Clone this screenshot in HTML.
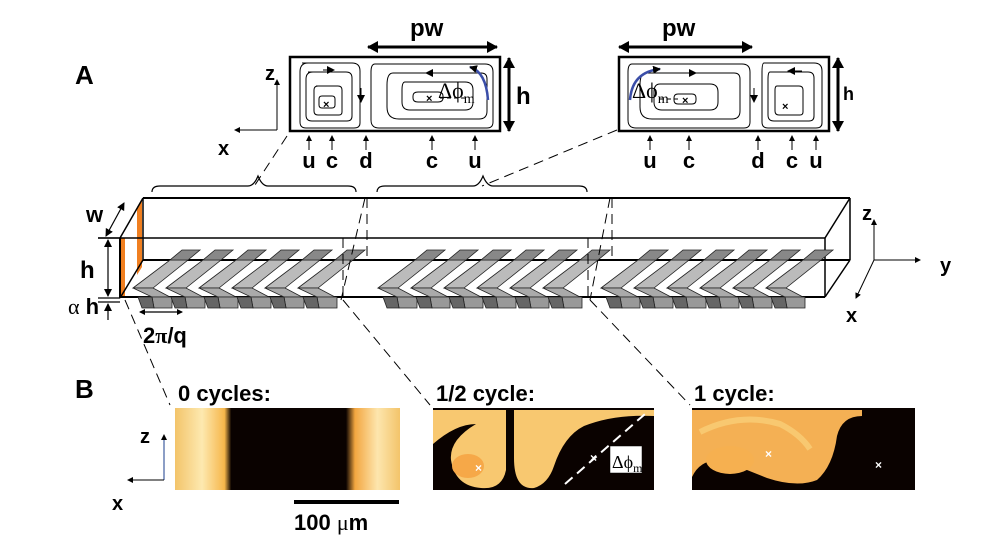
<!DOCTYPE html>
<html><head><meta charset="utf-8"><style>
html,body{margin:0;padding:0;background:#fff;}
svg{display:block;font-family:"Liberation Sans",sans-serif;}
.b{font-weight:bold;}
</style></head><body>
<svg width="983" height="546" viewBox="0 0 983 546" xmlns="http://www.w3.org/2000/svg">
<defs>
<marker id="ah" markerWidth="8" markerHeight="8" refX="7" refY="4" orient="auto-start-reverse" markerUnits="userSpaceOnUse"><path d="M0,0 L8,4 L0,8 z" fill="#000"/></marker>
<marker id="as" markerWidth="6" markerHeight="6" refX="5" refY="3" orient="auto-start-reverse" markerUnits="userSpaceOnUse"><path d="M0,0 L6,3 L0,6 z" fill="#000"/></marker>
<marker id="ab" markerWidth="11" markerHeight="12" refX="10" refY="6" orient="auto-start-reverse" markerUnits="userSpaceOnUse"><path d="M0,0 L11,6 L0,12 z" fill="#000"/></marker>
<linearGradient id="g1" x1="0" x2="1" y1="0" y2="0">
<stop offset="0" stop-color="#f3c46a"/><stop offset="0.12" stop-color="#fde9b0"/><stop offset="0.22" stop-color="#f6b64a"/><stop offset="0.25" stop-color="#0a0200"/><stop offset="0.76" stop-color="#0a0200"/><stop offset="0.8" stop-color="#f3a640"/><stop offset="0.9" stop-color="#fde6ae"/><stop offset="1" stop-color="#f3c46a"/></linearGradient>
</defs>

<text x="75" y="84" font-size="26" class="b">A</text>
<text x="75" y="398" font-size="26" class="b">B</text>

<g stroke="#000" fill="none">
<rect x="290" y="57" width="210" height="74" stroke-width="2.5"/>
<path d="M302,63 h50 q8,0 8,8 v52 q0,5 -6,5 h-48 q-6,0 -6,-6 v-50 q0,-9 8,-9z" stroke-width="1"/>
<path d="M308,72 h38 q6,0 6,6 v38 q0,5 -5,5 h-35 q-6,0 -6,-6 v-36 q0,-7 7,-7z" stroke-width="1"/>
<path d="M316,86 h22 q4,0 4,4 v22 q0,3 -3,3 h-21 q-4,0 -4,-4 v-21 q0,-4 4,-4z" stroke-width="1"/>
<path d="M322,96 h10 q3,0 3,3 v6 q0,3 -3,3 h-10 q-3,0 -3,-3 v-6 q0,-3 3,-3z" stroke-width="1"/>
<path d="M375,64 h110 q8,0 8,8 v50 q0,6 -6,6 h-108 q-8,0 -8,-8 v-48 q0,-8 4,-8z" stroke-width="1"/>
<path d="M393,73 h88 q6,0 6,6 v32 q0,8 -8,8 h-80 q-12,0 -12,-12 v-22 q0,-12 6,-12z" stroke-width="1"/>
<path d="M405,82 h60 q8,0 8,8 v12 q0,8 -8,8 h-55 q-8,0 -8,-8 v-12 q0,-8 3,-8z" stroke-width="1"/>
<path d="M418,92 h20 q5,0 5,4 v2 q0,4 -5,4 h-20 q-5,0 -5,-4 v-2 q0,-4 5,-4z" stroke-width="1"/>
<line x1="440" y1="98" x2="465" y2="98" stroke-dasharray="4,3" stroke-width="1"/>
<line x1="440" y1="73" x2="426" y2="73" marker-end="url(#ah)" stroke-width="1"/>
<line x1="323" y1="70" x2="334" y2="70" marker-end="url(#ah)" stroke-width="1"/>
<line x1="361" y1="88" x2="361" y2="102" marker-end="url(#ah)" stroke-width="1"/>
<path d="M488,100 Q486,72 470,67" stroke="#3b4ea8" stroke-width="2.5" marker-end="url(#ah)"/>
<line x1="368" y1="47" x2="497" y2="47" stroke-width="3" marker-end="url(#ab)" marker-start="url(#ab)"/>
<line x1="509" y1="58" x2="509" y2="131" stroke-width="3" marker-end="url(#ab)" marker-start="url(#ab)"/>
<line x1="277" y1="130" x2="277" y2="80" stroke-width="1" marker-end="url(#as)"/>
<line x1="277" y1="130" x2="235" y2="130" stroke-width="1" marker-end="url(#as)"/>
</g>
<text x="265" y="80" font-size="20" class="b">z</text>
<text x="218" y="155" font-size="20" class="b">x</text>
<text x="410" y="36" font-size="24" class="b">pw</text>
<text x="516" y="104" font-size="24" class="b">h</text>
<text x="426" y="102" font-size="11" class="b">×</text>
<text x="323" y="108" font-size="11" class="b">×</text>
<text x="438" y="98" font-size="22" font-family="Liberation Serif">Δϕ<tspan font-size="14" dy="5">m</tspan></text>

<g stroke="#000" fill="none">
<rect x="619" y="57" width="210" height="74" stroke-width="2.5"/>
<path d="M632,64 h110 q8,0 8,8 v50 q0,6 -6,6 h-108 q-8,0 -8,-8 v-48 q0,-8 4,-8z" stroke-width="1"/>
<path d="M646,73 h88 q6,0 6,6 v32 q0,8 -8,8 h-80 q-12,0 -12,-12 v-22 q0,-12 6,-12z" stroke-width="1"/>
<path d="M660,84 h50 q8,0 8,8 v10 q0,8 -8,8 h-48 q-8,0 -8,-8 v-10 q0,-8 6,-8z" stroke-width="1"/>
<path d="M678,94 h14 q4,0 4,4 v2 q0,4 -4,4 h-14 q-4,0 -4,-4 v-2 q0,-4 4,-4z" stroke-width="1"/>
<path d="M764,63 h50 q8,0 8,8 v52 q0,5 -6,5 h-48 q-6,0 -6,-6 v-50 q0,-9 2,-9z" stroke-width="1"/>
<path d="M770,72 h38 q6,0 6,6 v38 q0,5 -5,5 h-35 q-6,0 -6,-6 v-36 q0,-7 2,-7z" stroke-width="1"/>
<path d="M777,86 h22 q4,0 4,4 v22 q0,3 -3,3 h-21 q-4,0 -4,-4 v-21 q0,-4 2,-4z" stroke-width="1"/>
<line x1="660" y1="99" x2="680" y2="99" stroke-dasharray="4,3" stroke-width="1"/>
<line x1="682" y1="73" x2="696" y2="73" marker-end="url(#ah)" stroke-width="1"/>
<line x1="802" y1="71" x2="788" y2="71" marker-end="url(#ah)" stroke-width="1"/>
<line x1="754" y1="88" x2="754" y2="102" marker-end="url(#ah)" stroke-width="1"/>
<path d="M630,100 Q632,72 660,69" stroke="#3b4ea8" stroke-width="2.5" marker-end="url(#ah)"/>
<line x1="619" y1="47" x2="752" y2="47" stroke-width="3" marker-end="url(#ab)" marker-start="url(#ab)"/>
<line x1="838" y1="58" x2="838" y2="131" stroke-width="3" marker-end="url(#ab)" marker-start="url(#ab)"/>
</g>
<text x="662" y="36" font-size="24" class="b">pw</text>
<text x="843" y="100" font-size="18" class="b">h</text>
<text x="682" y="104" font-size="11" class="b">×</text>
<text x="782" y="110" font-size="11" class="b">×</text>
<text x="632" y="98" font-size="22" font-family="Liberation Serif">Δϕ<tspan font-size="14" dy="5">m</tspan></text>

<g stroke="#000" stroke-width="1">
<line x1="309" y1="150" x2="309" y2="136" marker-end="url(#as)"/>
<line x1="332" y1="150" x2="332" y2="136" marker-end="url(#as)"/>
<line x1="366" y1="150" x2="366" y2="136" marker-end="url(#as)"/>
<line x1="432" y1="150" x2="432" y2="136" marker-end="url(#as)"/>
<line x1="475" y1="150" x2="475" y2="136" marker-end="url(#as)"/>
<line x1="650" y1="150" x2="650" y2="136" marker-end="url(#as)"/>
<line x1="689" y1="150" x2="689" y2="136" marker-end="url(#as)"/>
<line x1="758" y1="150" x2="758" y2="136" marker-end="url(#as)"/>
<line x1="792" y1="150" x2="792" y2="136" marker-end="url(#as)"/>
<line x1="816" y1="150" x2="816" y2="136" marker-end="url(#as)"/>
</g>
<g font-size="22" class="b" text-anchor="middle">
<text x="309" y="168">u</text><text x="332" y="168">c</text><text x="366" y="168">d</text>
<text x="432" y="168">c</text><text x="475" y="168">u</text>
<text x="650" y="168">u</text><text x="689" y="168">c</text>
<text x="758" y="168">d</text><text x="792" y="168">c</text><text x="816" y="168">u</text>
</g>

<g stroke="#000" stroke-width="1" stroke-dasharray="10,6" fill="none">
<line x1="287" y1="136" x2="253" y2="188"/>
<line x1="617" y1="130" x2="482" y2="186"/>
</g>
<g stroke="#000" stroke-width="1.2" fill="none">
<path d="M152,192 q0,-6 8,-6 h88 q6,0 10,-10 q4,10 10,10 h80 q8,0 8,6"/>
<path d="M377,192 q0,-6 8,-6 h88 q6,0 10,-10 q4,10 10,10 h86 q8,0 8,6"/>
</g>

<g stroke="#000" fill="none">
<rect x="120" y="238" width="5" height="60" fill="#f07f20" stroke="none"/>
<polygon points="137,207 142,199 142,267 137,275" fill="#f07f20" stroke="none"/>
<line x1="143" y1="198" x2="850" y2="198" stroke-width="2"/>
<line x1="98" y1="238" x2="825" y2="238" stroke-width="1.5"/>
<line x1="143" y1="260" x2="850" y2="260" stroke-width="2"/>
<line x1="120" y1="297" x2="825" y2="297" stroke-width="2"/>
<line x1="120" y1="238" x2="143" y2="198" stroke-width="1.5"/>
<line x1="120" y1="298" x2="143" y2="260" stroke-width="1.5"/>
<line x1="120" y1="238" x2="120" y2="298" stroke-width="2"/>
<line x1="143" y1="198" x2="143" y2="260" stroke-width="1.5"/>
<line x1="850" y1="198" x2="850" y2="260" stroke-width="1.5"/>
<line x1="825" y1="238" x2="825" y2="297" stroke-width="1.5"/>
<line x1="825" y1="238" x2="850" y2="198" stroke-width="1.5"/>
<line x1="825" y1="297" x2="850" y2="260" stroke-width="1.5"/>
</g>

<!-- chevrons "<" -->
<g stroke="#222" stroke-width="0.8">
<g id="chev">
<polygon points="133,288 170,260 188,260 153,288" fill="#bbb"/>
<polygon points="170,260 188,260 200,250 182,250" fill="#888"/>
<polygon points="133,288 153,288 170,297 152,297" fill="#aaa"/>
<polygon points="152,297 172,297 172,308 154,308" fill="#999"/>
<polygon points="138,297 152,297 154,308 142,308" fill="#666"/>
</g>
<use href="#chev" x="33"/><use href="#chev" x="66"/><use href="#chev" x="99"/><use href="#chev" x="132"/><use href="#chev" x="165"/>
<use href="#chev" x="245"/><use href="#chev" x="278"/><use href="#chev" x="311"/><use href="#chev" x="344"/><use href="#chev" x="377"/><use href="#chev" x="410"/>
<use href="#chev" x="468"/><use href="#chev" x="501"/><use href="#chev" x="534"/><use href="#chev" x="567"/><use href="#chev" x="600"/><use href="#chev" x="633"/>
</g>
<g stroke="#000" stroke-width="1" stroke-dasharray="10,6" fill="none">
<line x1="365" y1="198" x2="341" y2="300"/>
<line x1="367" y1="198" x2="367" y2="258"/>
<line x1="343" y1="238" x2="343" y2="300"/>
<line x1="610" y1="198" x2="590" y2="300"/>
<line x1="612" y1="198" x2="612" y2="258"/>
<line x1="588" y1="238" x2="588" y2="300"/>
<line x1="125" y1="300" x2="170" y2="405"/>
<line x1="343" y1="300" x2="430" y2="405"/>
<line x1="590" y1="300" x2="690" y2="405"/>
</g>

<g stroke="#000" stroke-width="1.2">
<line x1="98" y1="238" x2="120" y2="238"/>
<line x1="98" y1="298" x2="120" y2="298"/>
<line x1="98" y1="302" x2="120" y2="302"/>
<line x1="108" y1="240" x2="108" y2="296" marker-end="url(#ah)" marker-start="url(#ah)"/>
<line x1="108" y1="320" x2="108" y2="304" marker-end="url(#ah)"/>
<line x1="106" y1="236" x2="124" y2="203" marker-end="url(#ah)" marker-start="url(#ah)"/>
<line x1="140" y1="312" x2="182" y2="312" marker-end="url(#as)" marker-start="url(#as)"/>
</g>
<text x="86" y="222" font-size="22" class="b">w</text>
<text x="80" y="278" font-size="24" class="b">h</text>
<text x="68" y="314" font-size="22" class="b"><tspan font-family="Liberation Serif" font-weight="normal">α</tspan> h</text>
<text x="143" y="343" font-size="22" class="b">2<tspan font-family="Liberation Serif">π</tspan>/q</text>

<g stroke="#000" stroke-width="1">
<line x1="874" y1="260" x2="874" y2="220" marker-end="url(#as)"/>
<line x1="874" y1="260" x2="920" y2="260" marker-end="url(#as)"/>
<line x1="874" y1="260" x2="856" y2="298" marker-end="url(#as)"/>
</g>
<text x="862" y="220" font-size="20" class="b">z</text>
<text x="940" y="272" font-size="20" class="b">y</text>
<text x="846" y="322" font-size="20" class="b">x</text>

<text x="178" y="401" font-size="22" class="b">0 cycles:</text>
<text x="436" y="401" font-size="22" class="b">1/2 cycle:</text>
<text x="694" y="401" font-size="22" class="b">1 cycle:</text>
<rect x="175" y="408" width="225" height="82" fill="url(#g1)"/>
<g>
<rect x="433" y="408" width="221" height="82" fill="#0a0200"/>
<path d="M433,410 h221 v6 q-40,-2 -70,10 q-20,10 -30,40 q-6,18 -20,22 q-20,2 -20,-30 v-48 h-8 v60 q-4,20 -25,18 q-26,-2 -30,-28 q-2,-20 25,-36 q-20,0 -43,20z" fill="#f8c870"/>
<ellipse cx="468" cy="466" rx="16" ry="12" fill="#f6a848"/>
<line x1="565" y1="484" x2="645" y2="414" stroke="#fff" stroke-width="2" stroke-dasharray="10,6"/>
<rect x="610" y="446" width="32" height="27" fill="#fff" stroke="#000" stroke-width="0.5"/>
<text x="612" y="468" font-size="18" font-family="Liberation Serif">Δϕ<tspan font-size="12" dy="4">m</tspan></text>
<text x="475" y="472" font-size="12" fill="#fff" class="b">×</text>
<text x="590" y="462" font-size="12" fill="#fff" class="b">×</text>
</g>
<g>
<rect x="692" y="408" width="223" height="82" fill="#0a0200"/>
<path d="M692,410 h170 v6 q-20,0 -25,20 q-4,30 -20,44 q-20,8 -50,-2 q-30,-12 -40,-16 q-25,-6 -35,15z" fill="#f4b054"/>
<path d="M700,432 q40,-20 80,-8 q20,10 30,25" stroke="#f8c870" stroke-width="6" fill="none"/>
<ellipse cx="730" cy="460" rx="24" ry="14" fill="#f6b050"/>
<text x="765" y="458" font-size="12" fill="#fff" class="b">×</text>
<text x="875" y="469" font-size="12" fill="#fff" class="b">×</text>
</g>
<g stroke="#000" stroke-width="1">
<line x1="164" y1="480" x2="164" y2="435" stroke="#1a3c8c" marker-end="url(#as)"/>
<line x1="164" y1="480" x2="128" y2="480" marker-end="url(#as)"/>
</g>
<text x="140" y="443" font-size="20" class="b">z</text>
<text x="112" y="510" font-size="20" class="b">x</text>
<rect x="294" y="500" width="105" height="4" fill="#000"/>
<text x="294" y="530" font-size="22" class="b">100 <tspan font-family="Liberation Serif" font-weight="normal">μ</tspan>m</text>
</svg>
</body></html>
